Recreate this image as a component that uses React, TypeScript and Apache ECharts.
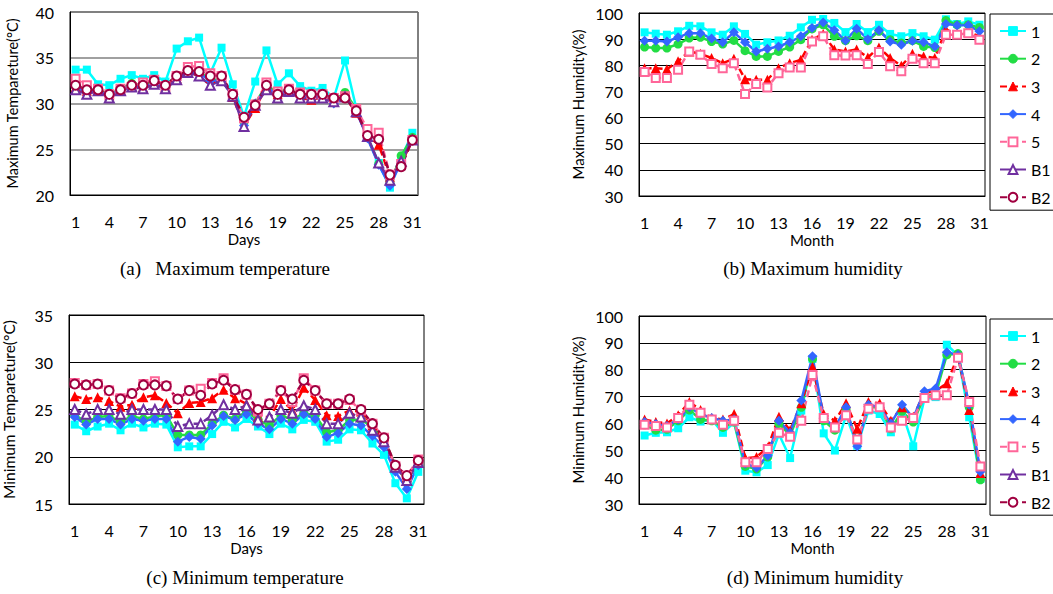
import React, { useEffect, useRef } from "react";
import * as echarts from "echarts";

const days = ["1","2","3","4","5","6","7","8","9","10","11","12","13","14","15","16","17","18","19","20","21","22","23","24","25","26","27","28","29","30","31"];
const seriesNames = ["1", "2", "3", "4", "5", "B1", "B2"];

// (a) Maximum temperature
const maxT1 = [33.7,33.7,32.1,32.0,32.7,33.1,32.7,33.1,32.4,36.0,36.8,37.2,33.3,36.1,32.1,28.6,32.4,35.8,32.1,33.3,31.9,31.4,31.7,30.6,34.7,29.5,26.3,23.5,20.8,24.0,26.8];
const maxT2 = [32.0,31.5,31.5,31.0,31.6,32.2,32.0,32.4,32.0,33.0,33.6,33.5,32.6,32.6,31.0,28.0,30.0,32.0,31.2,31.6,30.9,30.8,30.8,30.3,31.2,29.4,26.3,23.4,21.3,24.3,26.3];
const maxT3 = [31.8,31.4,31.4,30.9,31.5,31.8,31.8,32.3,31.8,32.8,33.5,33.6,32.8,32.9,30.7,27.5,29.5,31.8,31.0,31.4,30.6,30.4,30.7,30.2,30.7,29.0,26.5,25.5,22.0,23.4,26.0];
const maxT4 = [31.8,31.2,31.4,30.8,31.6,31.9,31.8,32.2,31.8,32.7,33.5,33.3,32.5,32.5,30.9,27.6,30.0,31.7,31.0,31.5,30.8,30.8,30.7,30.0,30.7,29.2,26.2,23.3,21.0,23.6,26.1];
const maxT5 = [32.7,32.0,31.6,31.0,31.6,31.8,32.3,32.6,31.9,33.0,34.0,34.1,33.3,33.0,31.0,28.4,29.9,32.3,31.3,31.6,31.2,31.0,31.0,30.6,30.8,29.4,27.2,26.8,22.2,23.4,26.0];
const maxTB1 = [31.5,31.0,31.4,30.6,31.4,31.8,31.6,32.1,31.6,32.6,33.4,33.0,32.0,32.5,30.8,27.5,29.8,31.5,30.6,31.3,30.6,30.6,30.6,30.2,30.7,29.1,26.4,23.5,21.6,23.7,26.0];
const maxTB2 = [32.0,31.5,31.5,31.0,31.5,32.0,32.0,32.5,32.0,33.0,33.6,33.5,33.0,33.0,31.0,28.5,29.8,32.0,31.0,31.5,31.0,31.0,31.0,30.6,30.6,29.2,26.5,26.1,22.2,23.1,26.0];

// (b) Maximum humidity
const maxH1 = [92.6,92.1,91.7,93.0,95.1,94.9,92.6,91.7,94.9,92.0,87.9,88.8,89.5,91.3,94.5,97.4,97.7,96.2,92.7,95.8,92.7,95.5,92.0,91.1,92.3,91.1,89.8,97.6,95.8,96.8,95.5];
const maxH2 = [87.0,86.6,86.6,88.1,90.4,90.7,89.1,88.1,89.5,85.6,83.4,83.4,85.3,87.0,89.8,93.9,95.5,91.1,89.4,91.3,89.4,93.0,89.8,88.5,89.4,87.2,86.8,97.1,95.5,95.5,94.5];
const maxH3 = [78.9,78.9,78.5,81.5,85.3,84.4,82.8,80.8,82.5,74.7,74.5,74.5,78.9,80.8,82.1,89.8,92.0,86.0,85.3,86.0,83.0,86.8,82.8,79.8,84.4,83.4,82.8,93.6,92.3,92.7,91.1];
const maxH4 = [89.4,89.4,89.1,90.7,92.3,92.3,90.2,88.8,92.6,88.8,85.3,86.3,87.2,88.8,91.1,94.3,96.4,93.4,89.5,94.0,90.0,93.4,89.1,87.9,89.4,88.8,87.2,95.8,95.3,95.3,93.0];
const maxH5 = [77.4,75.1,75.1,78.3,85.3,84.0,80.5,78.9,80.8,69.0,72.8,71.5,77.0,79.2,79.2,89.1,91.1,83.8,83.7,83.8,80.5,85.1,79.6,77.7,82.5,80.8,80.8,91.7,91.7,92.3,89.8];
const maxHB1: (number | null)[] = [];
const maxHB2: (number | null)[] = [];

// (c) Minimum temperature
const minT1 = [23.4,22.7,23.2,23.5,22.8,23.5,23.1,23.5,23.4,21.0,21.1,21.1,22.4,23.7,23.1,24.0,23.2,22.4,23.5,22.9,23.9,23.7,21.6,21.8,22.9,22.8,21.4,20.2,17.2,15.6,18.4];
const minT2 = [24.4,23.7,24.2,24.3,23.7,24.3,24.0,24.3,24.4,22.3,22.3,22.3,23.5,24.4,24.0,24.8,23.9,23.3,24.4,23.9,24.6,24.4,22.6,22.8,23.9,23.9,23.2,21.9,19.1,17.5,19.3];
const minT3 = [26.4,26.1,26.3,25.9,25.3,25.5,26.3,26.5,25.7,24.6,25.7,25.8,26.2,27.1,26.2,25.6,24.2,24.2,26.1,24.9,27.3,26.0,24.4,24.3,24.9,24.8,23.3,21.8,19.0,17.8,19.5];
const minT4 = [24.2,23.4,24.0,24.0,23.4,24.0,23.8,24.0,24.0,21.6,22.1,21.9,23.3,24.3,23.9,24.5,23.5,22.9,24.0,23.5,24.5,24.0,22.1,22.5,23.5,23.3,22.2,21.0,18.4,16.6,19.1];
const minT5 = [27.8,27.6,27.7,27.0,26.2,26.7,27.7,28.0,27.5,26.1,27.0,27.2,27.8,28.3,27.1,26.6,24.8,25.6,27.0,25.8,28.3,27.0,25.6,25.6,26.0,24.9,23.5,22.0,19.0,18.0,19.7];
const minTB1 = [25.0,24.5,25.0,25.0,24.5,25.0,25.0,25.0,25.0,23.2,23.5,23.5,24.4,25.5,25.0,25.4,23.9,24.2,25.0,24.6,25.4,25.0,23.5,23.5,24.6,24.2,22.8,21.6,18.9,17.5,19.4];
const minTB2 = [27.7,27.6,27.7,27.0,26.1,26.7,27.6,27.6,27.5,26.1,27.0,26.5,27.7,28.1,27.1,26.6,25.0,25.6,27.0,26.1,28.1,27.0,25.6,25.6,26.1,25.0,23.5,22.0,19.1,18.0,19.6];

// (d) Minimum humidity
const minH1 = [55.5,56.5,56.7,58.2,62.3,60.7,61.4,56.5,60.4,42.4,41.8,44.5,56.0,47.1,64.8,84.0,56.3,49.9,62.9,51.7,64.8,63.5,56.7,64.2,51.5,69.1,69.8,89.3,85.3,62.3,39.3];
const minH2 = [59.5,57.5,57.8,61.0,65.0,61.5,61.0,58.5,60.5,44.0,43.0,47.5,60.0,55.5,66.0,84.0,61.0,57.5,65.0,53.0,66.0,66.0,58.0,64.5,60.5,70.0,71.0,85.5,86.0,66.0,39.0];
const minH3 = [61.5,60.5,60.0,63.0,68.0,65.0,62.0,61.5,63.5,47.0,47.5,51.0,62.5,57.5,67.5,81.0,63.5,61.0,67.5,58.0,68.0,67.5,61.0,66.0,62.5,71.5,72.0,75.0,85.0,65.0,41.5];
const minH4 = [60.5,59.8,59.0,61.5,66.0,63.5,62.0,61.0,61.5,45.0,43.5,48.0,61.0,56.5,68.5,85.0,62.0,58.5,66.0,51.5,67.0,66.0,60.0,67.0,62.0,72.0,73.0,86.5,85.5,67.0,42.0];
const minH5 = [59.5,59.0,58.5,62.0,67.0,64.0,61.5,59.5,61.0,45.5,45.5,50.5,56.5,55.0,61.0,78.0,62.0,58.5,63.0,54.0,65.5,66.0,58.5,61.0,62.0,69.5,70.5,70.5,84.5,68.0,44.0];
const minHB1: (number | null)[] = [];
const minHB2: (number | null)[] = [];

const FONT = "Lato";
const SERIF = "Liberation Serif";

type Sty = { color: string; symbol: string; size: number; dash: boolean };
const styles: Record<string, Sty> = {
  "1": { color: "#00FFFF", symbol: "rect", size: 8, dash: false },
  "2": { color: "#22DD44", symbol: "circle", size: 9, dash: false },
  "3": { color: "#FF0000", symbol: "triangle", size: 10, dash: true },
  "4": { color: "#3366FF", symbol: "diamond", size: 10, dash: false },
  "5": { color: "#FF6699", symbol: "emptyRect", size: 8, dash: true },
  B1: { color: "#7030A0", symbol: "emptyTriangle", size: 9, dash: false },
  B2: { color: "#A00040", symbol: "emptyCircle", size: 9, dash: true },
};

function makeSeries(idx: number, arrays: (number | null)[][], dashOverride?: Record<string, boolean>) {
  return seriesNames.map((name, k) => {
    const s = styles[name];
    const dash = dashOverride && name in dashOverride ? dashOverride[name] : s.dash;
    const empty = s.symbol.startsWith("empty");
    return {
      type: "line",
      name,
      xAxisIndex: idx,
      yAxisIndex: idx,
      data: arrays[k],
      symbol: s.symbol,
      symbolSize: s.size,
      showSymbol: true,
      showAllSymbol: true,
      lineStyle: { color: s.color, width: 2.5, type: dash ? [7, 4] : "solid" },
      itemStyle: empty
        ? { color: s.color, borderColor: s.color, borderWidth: 1.5 }
        : { color: s.color, borderColor: s.color, borderWidth: 0 },
      emphasis: { disabled: true },
    };
  });
}

const axisText = { color: "#000", fontFamily: FONT, fontSize: 16 };

function xAxis(idx: number, name: string) {
  return {
    type: "category",
    gridIndex: idx,
    data: days,
    boundaryGap: true,
    name,
    nameLocation: "middle",
    nameGap: 36,
    nameTextStyle: { color: "#000", fontFamily: FONT, fontSize: 15 },
    axisTick: { show: false },
    axisLine: { show: true, lineStyle: { color: "#000", width: 1 } },
    axisLabel: { ...axisText, interval: 2, margin: 18 },
    splitLine: { show: false },
  };
}

function yAxis(idx: number, name: string, min: number, max: number, interval: number, gridColor: string, gridWidth: number, nameGap: number, nameSize: number) {
  return {
    type: "value",
    gridIndex: idx,
    min,
    max,
    interval,
    name,
    nameLocation: "middle",
    nameGap,
    nameRotate: 90,
    nameTextStyle: { color: "#000", fontFamily: FONT, fontSize: nameSize },
    axisTick: { show: false },
    axisLine: { show: true, lineStyle: { color: "#000", width: 1 } },
    axisLabel: { ...axisText, margin: 16 },
    splitLine: { show: true, lineStyle: { color: gridColor, width: gridWidth } },
  };
}

function legend(top: number) {
  return {
    orient: "vertical",
    left: 990,
    top,
    data: seriesNames,
    itemWidth: 26,
    itemHeight: 11,
    itemGap: 11.7,
    padding: [9, 6, 5, 9],
    borderColor: "#000",
    borderWidth: 1,
    backgroundColor: "#fff",
    selectedMode: false,
    itemStyle: { borderWidth: 1 },
    textStyle: { color: "#000", fontFamily: FONT, fontSize: 16 },
  };
}

function caption(text: string, x: number, y: number) {
  return {
    type: "text",
    x,
    y,
    style: {
      text,
      fill: "#000",
      fontFamily: SERIF,
      fontSize: 19,
      align: "center",
      verticalAlign: "middle",
    },
  };
}

export default function App() {
  const ref = useRef<HTMLDivElement>(null);
  useEffect(() => {
    if (!ref.current) return;
    const chart = echarts.init(ref.current, undefined, { renderer: "svg" });
    const option = {
      animation: false,
      backgroundColor: "#fff",
      grid: [
        { left: 70, top: 12, width: 348, height: 183, show: true, borderColor: "#000", borderWidth: 1, backgroundColor: "transparent" },
        { left: 639, top: 13, width: 346, height: 183, show: true, borderColor: "#000", borderWidth: 1, backgroundColor: "transparent" },
        { left: 67, top: 315, width: 357, height: 189, show: true, borderColor: "#000", borderWidth: 1, backgroundColor: "transparent" },
        { left: 639, top: 316, width: 347, height: 188, show: true, borderColor: "#000", borderWidth: 1, backgroundColor: "transparent" },
      ],
      xAxis: [xAxis(0, "Days"), xAxis(1, "Month"), xAxis(2, "Days"), xAxis(3, "Month")],
      yAxis: [
        yAxis(0, "Maximum Tempareture(°C)", 20, 40, 5, "#808080", 1.5, 50, 14.5),
        yAxis(1, "Maximum Humidity(%)", 30, 100, 10, "#000", 1, 54, 15),
        yAxis(2, "Minimum Tempareture(°C)", 15, 35, 5, "#000", 1, 52, 15.5),
        yAxis(3, "Minimum Humidity(%)", 30, 100, 10, "#000", 1, 54, 15),
      ],
      legend: [legend(14), legend(319)],
      series: [
        ...makeSeries(0, [maxT1, maxT2, maxT3, maxT4, maxT5, maxTB1, maxTB2]),
        ...makeSeries(1, [maxH1, maxH2, maxH3, maxH4, maxH5, maxHB1, maxHB2]),
        ...makeSeries(2, [minT1, minT2, minT3, minT4, minT5, minTB1, minTB2], { B1: true }),
        ...makeSeries(3, [minH1, minH2, minH3, minH4, minH5, minHB1, minHB2]),
      ],
      graphic: [
        caption("(a)   Maximum temperature", 225, 268),
        caption("(b) Maximum humidity", 813, 268),
        caption("(c) Minimum temperature", 245, 577),
        caption("(d) Minimum humidity", 815, 577),
      ],
    };
    chart.setOption(option as any);
    return () => chart.dispose();
  }, []);
  return (
    <div
      ref={ref}
      style={{ position: "absolute", left: 0, top: 0, width: 1053, height: 594, background: "#fff" }}
    />
  );
}
